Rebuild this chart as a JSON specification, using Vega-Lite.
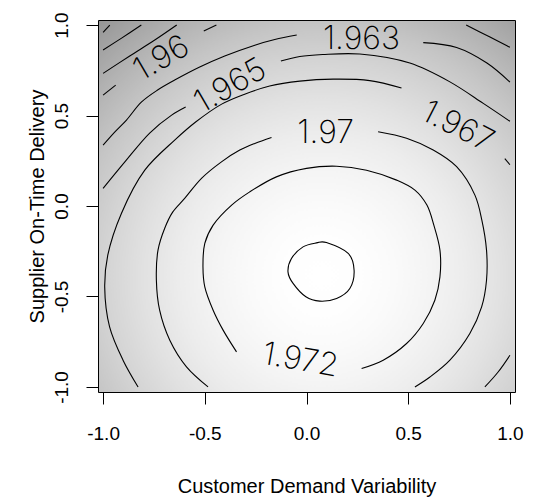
{
  "$schema": "https://vega.github.io/schema/vega-lite/v6.json",
  "width": 417,
  "height": 372,
  "autosize": {"type": "none"},
  "padding": {"left": 98, "top": 20, "right": 45, "bottom": 112},
  "background": "white",
  "config": {
    "font": "Liberation Sans",
    "view": {
      "stroke": "black",
      "strokeWidth": 1,
      "fill": {
        "gradient": "radial",
        "x1": 0.536, "y1": 0.667, "r1": 0,
        "x2": 0.536, "y2": 0.667, "r2": 0.86,
        "stops": [
          {"offset": 0, "color": "#ffffff"},
          {"offset": 0.1, "color": "#fefefe"},
          {"offset": 0.2, "color": "#fafafa"},
          {"offset": 0.3, "color": "#f4f4f4"},
          {"offset": 0.4, "color": "#ececec"},
          {"offset": 0.5, "color": "#e1e1e1"},
          {"offset": 0.6, "color": "#d4d4d4"},
          {"offset": 0.7, "color": "#c5c5c5"},
          {"offset": 0.8, "color": "#b3b3b3"},
          {"offset": 0.9, "color": "#9f9f9f"},
          {"offset": 1, "color": "#898989"}
        ]
      }
    },
    "axis": {
      "domain": false,
      "grid": false,
      "ticks": true,
      "tickSize": 12,
      "tickColor": "black",
      "tickWidth": 1,
      "labelColor": "black",
      "labelFontSize": 19,
      "labelFont": "Liberation Sans",
      "titleFont": "Liberation Sans",
      "titleFontSize": 20,
      "titleFontWeight": "normal",
      "titleColor": "black",
      "labelExpr": "replace(format(datum.value, '.1f'), '\u2212', '-')"
    }
  },
  "datasets": {
    "lines": [
      {"seg": "C0", "i": 0, "x": 0.098, "y": -0.202},
      {"seg": "C0", "i": 1, "x": 0.205, "y": -0.262},
      {"seg": "C0", "i": 2, "x": 0.234, "y": -0.355},
      {"seg": "C0", "i": 3, "x": 0.213, "y": -0.456},
      {"seg": "C0", "i": 4, "x": 0.148, "y": -0.511},
      {"seg": "C0", "i": 5, "x": 0.065, "y": -0.526},
      {"seg": "C0", "i": 6, "x": -0.003, "y": -0.502},
      {"seg": "C0", "i": 7, "x": -0.066, "y": -0.428},
      {"seg": "C0", "i": 8, "x": -0.091, "y": -0.364},
      {"seg": "C0", "i": 9, "x": -0.074, "y": -0.290},
      {"seg": "C0", "i": 10, "x": -0.017, "y": -0.226},
      {"seg": "C0", "i": 11, "x": 0.049, "y": -0.204},

      {"seg": "C1", "i": 0, "x": 0.271, "y": -0.898},
      {"seg": "C1", "i": 1, "x": 0.377, "y": -0.852},
      {"seg": "C1", "i": 2, "x": 0.492, "y": -0.760},
      {"seg": "C1", "i": 3, "x": 0.574, "y": -0.649},
      {"seg": "C1", "i": 4, "x": 0.631, "y": -0.521},
      {"seg": "C1", "i": 5, "x": 0.656, "y": -0.392},
      {"seg": "C1", "i": 6, "x": 0.656, "y": -0.244},
      {"seg": "C1", "i": 7, "x": 0.626, "y": -0.106},
      {"seg": "C1", "i": 8, "x": 0.592, "y": 0.005},
      {"seg": "C1", "i": 9, "x": 0.533, "y": 0.088},
      {"seg": "C1", "i": 10, "x": 0.443, "y": 0.143},
      {"seg": "C1", "i": 11, "x": 0.295, "y": 0.198},
      {"seg": "C1", "i": 12, "x": 0.148, "y": 0.220},
      {"seg": "C1", "i": 13, "x": 0.000, "y": 0.208},
      {"seg": "C1", "i": 14, "x": -0.148, "y": 0.161},
      {"seg": "C1", "i": 15, "x": -0.279, "y": 0.078},
      {"seg": "C1", "i": 16, "x": -0.368, "y": 0.005},
      {"seg": "C1", "i": 17, "x": -0.459, "y": -0.106},
      {"seg": "C1", "i": 18, "x": -0.500, "y": -0.207},
      {"seg": "C1", "i": 19, "x": -0.509, "y": -0.336},
      {"seg": "C1", "i": 20, "x": -0.500, "y": -0.447},
      {"seg": "C1", "i": 21, "x": -0.459, "y": -0.576},
      {"seg": "C1", "i": 22, "x": -0.410, "y": -0.686},
      {"seg": "C1", "i": 23, "x": -0.344, "y": -0.806},

      {"seg": "C2a", "i": 0, "x": -0.484, "y": -1.000},
      {"seg": "C2a", "i": 1, "x": -0.590, "y": -0.889},
      {"seg": "C2a", "i": 2, "x": -0.672, "y": -0.742},
      {"seg": "C2a", "i": 3, "x": -0.722, "y": -0.576},
      {"seg": "C2a", "i": 4, "x": -0.738, "y": -0.410},
      {"seg": "C2a", "i": 5, "x": -0.730, "y": -0.244},
      {"seg": "C2a", "i": 6, "x": -0.697, "y": -0.123},
      {"seg": "C2a", "i": 7, "x": -0.658, "y": -0.034},
      {"seg": "C2a", "i": 8, "x": -0.599, "y": 0.042},
      {"seg": "C2a", "i": 9, "x": -0.515, "y": 0.154},
      {"seg": "C2a", "i": 10, "x": -0.418, "y": 0.244},
      {"seg": "C2a", "i": 11, "x": -0.328, "y": 0.309},
      {"seg": "C2a", "i": 12, "x": -0.254, "y": 0.346},
      {"seg": "C2a", "i": 13, "x": -0.172, "y": 0.379},

      {"seg": "C2b", "i": 0, "x": 0.352, "y": 0.410},
      {"seg": "C2b", "i": 1, "x": 0.492, "y": 0.374},
      {"seg": "C2b", "i": 2, "x": 0.623, "y": 0.309},
      {"seg": "C2b", "i": 3, "x": 0.738, "y": 0.217},
      {"seg": "C2b", "i": 4, "x": 0.828, "y": 0.060},
      {"seg": "C2b", "i": 5, "x": 0.862, "y": -0.078},
      {"seg": "C2b", "i": 6, "x": 0.885, "y": -0.244},
      {"seg": "C2b", "i": 7, "x": 0.885, "y": -0.410},
      {"seg": "C2b", "i": 8, "x": 0.861, "y": -0.558},
      {"seg": "C2b", "i": 9, "x": 0.803, "y": -0.705},
      {"seg": "C2b", "i": 10, "x": 0.705, "y": -0.852},
      {"seg": "C2b", "i": 11, "x": 0.607, "y": -0.945},
      {"seg": "C2b", "i": 12, "x": 0.533, "y": -1.000},

      {"seg": "C3a", "i": 0, "x": 0.467, "y": 0.652},
      {"seg": "C3a", "i": 1, "x": 0.311, "y": 0.693},
      {"seg": "C3a", "i": 2, "x": 0.131, "y": 0.701},
      {"seg": "C3a", "i": 3, "x": -0.033, "y": 0.690},
      {"seg": "C3a", "i": 4, "x": -0.181, "y": 0.663},
      {"seg": "C3a", "i": 5, "x": -0.304, "y": 0.618},
      {"seg": "C3a", "i": 6, "x": -0.417, "y": 0.563},
      {"seg": "C3a", "i": 7, "x": -0.545, "y": 0.464},
      {"seg": "C3a", "i": 8, "x": -0.648, "y": 0.364},
      {"seg": "C3a", "i": 9, "x": -0.795, "y": 0.198},
      {"seg": "C3a", "i": 10, "x": -0.910, "y": -0.041},
      {"seg": "C3a", "i": 11, "x": -0.977, "y": -0.272},
      {"seg": "C3a", "i": 12, "x": -0.992, "y": -0.449},
      {"seg": "C3a", "i": 13, "x": -0.968, "y": -0.668},
      {"seg": "C3a", "i": 14, "x": -0.902, "y": -0.852},
      {"seg": "C3a", "i": 15, "x": -0.828, "y": -1.000},

      {"seg": "C3b", "i": 0, "x": 0.975, "y": 0.262},
      {"seg": "C3b", "i": 1, "x": 1.000, "y": 0.228},

      {"seg": "C3c", "i": 0, "x": 0.877, "y": -1.000},
      {"seg": "C3c", "i": 1, "x": 0.941, "y": -0.919},
      {"seg": "C3c", "i": 2, "x": 1.000, "y": -0.825},

      {"seg": "C4a", "i": 0, "x": -1.000, "y": 0.097},
      {"seg": "C4a", "i": 1, "x": -0.894, "y": 0.242},
      {"seg": "C4a", "i": 2, "x": -0.771, "y": 0.403},
      {"seg": "C4a", "i": 3, "x": -0.663, "y": 0.502},
      {"seg": "C4a", "i": 4, "x": -0.594, "y": 0.547},

      {"seg": "C4b", "i": 0, "x": -0.126, "y": 0.801},
      {"seg": "C4b", "i": 1, "x": -0.033, "y": 0.826},
      {"seg": "C4b", "i": 2, "x": 0.080, "y": 0.837},
      {"seg": "C4b", "i": 3, "x": 0.262, "y": 0.840},
      {"seg": "C4b", "i": 4, "x": 0.508, "y": 0.790},
      {"seg": "C4b", "i": 5, "x": 0.705, "y": 0.686},
      {"seg": "C4b", "i": 6, "x": 0.869, "y": 0.567},
      {"seg": "C4b", "i": 7, "x": 1.000, "y": 0.468},

      {"seg": "C5a", "i": 0, "x": -1.000, "y": 0.336},
      {"seg": "C5a", "i": 1, "x": -0.943, "y": 0.408},
      {"seg": "C5a", "i": 2, "x": -0.885, "y": 0.475},
      {"seg": "C5a", "i": 3, "x": -0.812, "y": 0.574},
      {"seg": "C5a", "i": 4, "x": -0.732, "y": 0.641},
      {"seg": "C5a", "i": 5, "x": -0.648, "y": 0.696},
      {"seg": "C5a", "i": 6, "x": -0.525, "y": 0.768},
      {"seg": "C5a", "i": 7, "x": -0.402, "y": 0.829},
      {"seg": "C5a", "i": 8, "x": -0.254, "y": 0.889},
      {"seg": "C5a", "i": 9, "x": -0.156, "y": 0.920},
      {"seg": "C5a", "i": 10, "x": -0.048, "y": 0.945},

      {"seg": "C5b", "i": 0, "x": 0.574, "y": 0.903},
      {"seg": "C5b", "i": 1, "x": 0.738, "y": 0.876},
      {"seg": "C5b", "i": 2, "x": 0.887, "y": 0.790},
      {"seg": "C5b", "i": 3, "x": 1.000, "y": 0.685},

      {"seg": "C6a", "i": 0, "x": -1.000, "y": 0.613},
      {"seg": "C6a", "i": 1, "x": -0.938, "y": 0.668},

      {"seg": "C6b", "i": 0, "x": -0.505, "y": 0.967},
      {"seg": "C6b", "i": 1, "x": -0.443, "y": 1.000},

      {"seg": "C6c", "i": 0, "x": 0.785, "y": 1.000},
      {"seg": "C6c", "i": 1, "x": 0.902, "y": 0.934},
      {"seg": "C6c", "i": 2, "x": 0.988, "y": 0.884},
      {"seg": "C6c", "i": 3, "x": 1.000, "y": 0.877},

      {"seg": "C7", "i": 0, "x": -1.000, "y": 0.733},
      {"seg": "C7", "i": 1, "x": -0.869, "y": 0.829},
      {"seg": "C7", "i": 2, "x": -0.746, "y": 0.917},
      {"seg": "C7", "i": 3, "x": -0.638, "y": 1.000},

      {"seg": "C8", "i": 0, "x": -1.000, "y": 0.862},
      {"seg": "C8", "i": 1, "x": -0.909, "y": 0.928},
      {"seg": "C8", "i": 2, "x": -0.812, "y": 1.000},

      {"seg": "C9", "i": 0, "x": -1.000, "y": 0.960},
      {"seg": "C9", "i": 1, "x": -0.967, "y": 1.000}
    ],
    "labels": [
      {"label": "1.963", "x": 0.270, "y": 0.923},
      {"label": "1.97", "x": 0.094, "y": 0.403},
      {"label": "1.972", "x": -0.030, "y": -0.852},
      {"label": "1.965", "x": -0.375, "y": 0.663},
      {"label": "1.96", "x": -0.713, "y": 0.816},
      {"label": "1.967", "x": 0.744, "y": 0.438}
    ]
  },
  "encoding": {
    "x": {
      "field": "x",
      "type": "quantitative",
      "scale": {"domain": [-1.025, 1.025], "nice": false, "zero": false},
      "axis": {
        "title": "Customer Demand Variability",
        "values": [-1, -0.5, 0, 0.5, 1],
        "labelPadding": 20,
        "titlePadding": 33
      }
    },
    "y": {
      "field": "y",
      "type": "quantitative",
      "scale": {"domain": [-1.028, 1.028], "nice": false, "zero": false},
      "axis": {
        "title": "Supplier On-Time Delivery",
        "values": [-1, -0.5, 0, 0.5, 1],
        "labelAngle": -90,
        "labelAlign": "center",
        "labelBaseline": "bottom",
        "labelPadding": 15,
        "titlePadding": 5
      }
    }
  },
  "layer": [
    {
      "data": {"name": "lines"},
      "transform": [{"filter": "datum.seg != 'C0'"}],
      "mark": {"type": "line", "color": "black", "strokeWidth": 1.1, "interpolate": "catmull-rom"},
      "encoding": {
        "detail": {"field": "seg", "type": "nominal"},
        "order": {"field": "i", "type": "quantitative"}
      }
    },
    {
      "data": {"name": "lines"},
      "transform": [{"filter": "datum.seg == 'C0'"}],
      "mark": {"type": "line", "color": "black", "strokeWidth": 1.1, "interpolate": "cardinal-closed"},
      "encoding": {
        "order": {"field": "i", "type": "quantitative"}
      }
    },
    {
      "data": {"name": "labels"},
      "transform": [{"filter": "datum.label == '1.963' || datum.label == '1.97'"}],
      "mark": {"type": "text", "font": "Inter", "fontWeight": 200, "fontSize": 32, "color": "black", "align": "center", "baseline": "middle", "angle": 0},
      "encoding": {"text": {"field": "label"}}
    },
    {
      "data": {"name": "labels"},
      "transform": [{"filter": "datum.label == '1.972'"}],
      "mark": {"type": "text", "font": "Inter", "fontWeight": 200, "fontSize": 32, "color": "black", "align": "center", "baseline": "middle", "angle": 10},
      "encoding": {"text": {"field": "label"}}
    },
    {
      "data": {"name": "labels"},
      "transform": [{"filter": "datum.label == '1.965' || datum.label == '1.96'"}],
      "mark": {"type": "text", "font": "Inter", "fontWeight": 200, "fontSize": 32, "color": "black", "align": "center", "baseline": "middle", "angle": -30},
      "encoding": {"text": {"field": "label"}}
    },
    {
      "data": {"name": "labels"},
      "transform": [{"filter": "datum.label == '1.967'"}],
      "mark": {"type": "text", "font": "Inter", "fontWeight": 200, "fontSize": 32, "color": "black", "align": "center", "baseline": "middle", "angle": 27},
      "encoding": {"text": {"field": "label"}}
    }
  ]
}
